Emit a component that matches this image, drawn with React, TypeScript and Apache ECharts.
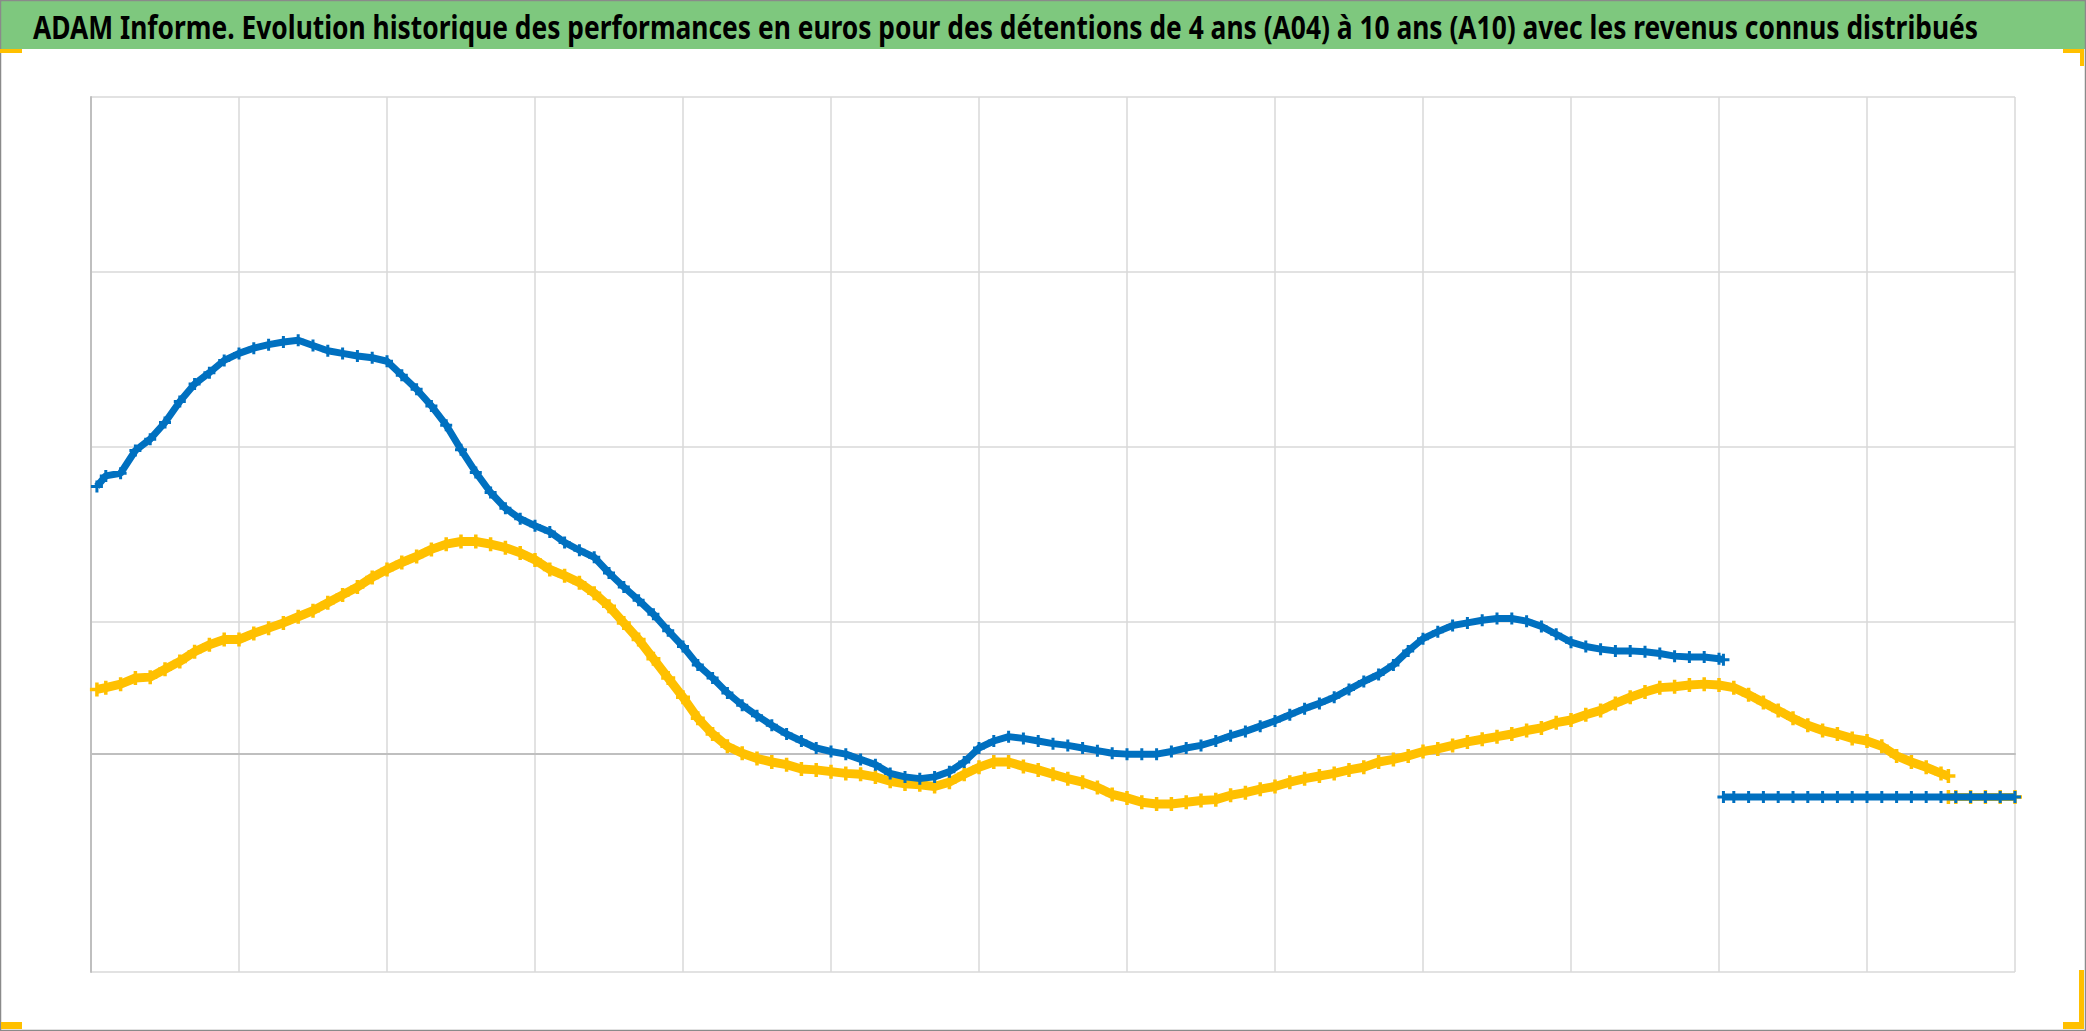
import { useEffect, useRef } from "react";
import * as echarts from "echarts";

const TITLE =
  "ADAM Informe. Evolution historique des performances en euros pour des détentions de 4 ans (A04) à 10 ans (A10) avec les revenus connus distribués";

const X_MIN = 0;
const X_MAX = 130;
const X_STEP = 10;
const Y_MIN = -2500;
const Y_MAX = 7500;
// horizontal gridlines seen in the picture (the -500 line is not drawn)
const Y_GRID = [7500, 5500, 3500, 1500, -2500];

const BLUE = "#0070C0";
const YELLOW = "#FFC000";

const steps = (a: number, b: number) => Array.from({ length: b - a + 1 }, (_, i) => a + i);

// Sampling positions (x in grid tenths) and values (euros)
const blueX = [0.4, ...steps(1, 110), 110.3];
const blueY = [
  3050, 3170, 3200, 3460, 3590, 3780, 4020, 4220, 4350, 4490, 4570, 4630, 4670, 4700, 4720, 4660,
  4600, 4570, 4540, 4520, 4480, 4320, 4160, 3970, 3750, 3470, 3210, 2980, 2800, 2680, 2600, 2530,
  2410, 2320, 2240, 2060, 1900, 1750, 1590, 1400, 1220, 1010, 860, 690, 550, 430, 320, 220, 140, 60,
  20, -10, -70, -130, -230, -270, -290, -270, -210, -100, 60, 140, 190, 170, 140, 110, 90, 60, 30, 0,
  -10, -10, -10, 20, 60, 90, 140, 200, 250, 310, 370, 440, 510, 570, 640, 730, 820, 900, 1010, 1170,
  1310, 1390, 1460, 1490, 1520, 1540, 1540, 1510, 1450, 1360, 1270, 1220, 1190, 1170, 1170, 1160,
  1140, 1110, 1100, 1100, 1080, 1070,
];

const yellowX = [0.4, ...steps(1, 125), 125.5];
const yellowY = [
  730, 750, 790, 860, 870, 960, 1050, 1160, 1240, 1300, 1300, 1370, 1430, 1490, 1560, 1630, 1720,
  1810, 1900, 2010, 2100, 2180, 2250, 2330, 2390, 2420, 2420, 2390, 2350, 2290, 2210, 2100, 2030,
  1950, 1830, 1680, 1490, 1300, 1080, 860, 640, 400, 220, 80, 0, -60, -100, -130, -180, -190, -210,
  -230, -240, -270, -320, -350, -360, -380, -330, -240, -160, -100, -100, -150, -190, -240, -290,
  -330, -390, -470, -510, -560, -580, -580, -560, -540, -530, -480, -450, -410, -380, -330, -290,
  -260, -230, -190, -160, -100, -70, -30, 20, 50, 90, 130, 160, 190, 220, 260, 290, 350, 380, 440,
  490, 570, 640, 700, 750, 760, 780, 790, 780, 750, 670, 580, 490, 400, 320, 260, 220, 170, 140, 80,
  -30, -100, -160, -230, -260,
];

const blueTailX = [110.3, ...steps(111, 130)];
const blueTailY = [
  -500, -500, -500, -500, -500, -500, -500, -500, -500, -500, -500, -500, -500, -500, -500, -500,
  -500, -500, -500, -500, -500,
];
const yellowTailX = [125.5, ...steps(126, 130)];
const yellowTailY = [-500, -500, -500, -500, -500, -500];

const zip = (xs: number[], ys: number[]) => xs.map((x, i) => [x, ys[i]]);

const PLUS = "path://M3,0H5V3H8V5H5V8H3V5H0V3H3Z";

const W = 2086;
const H = 1031;

export default function App() {
  const ref = useRef<HTMLDivElement>(null);

  useEffect(() => {
    if (!ref.current) return;
    const chart = echarts.init(ref.current, undefined, { renderer: "svg" });

    const titleFont = 'bold 33px "Noto Sans"';
    let scaleX = 0.85;
    try {
      const ctx = document.createElement("canvas").getContext("2d");
      if (ctx) {
        ctx.font = titleFont;
        const w = ctx.measureText(TITLE).width;
        if (w > 0) scaleX = 1946 / w;
      }
    } catch (e) {}

    const gridLine = { color: "#d9d9d9", width: 1.5, type: "solid" };
    const axisLine = { color: "#bfbfbf", width: 2 };

    const lineSeries = (data: number[][], color: string, size: number, width: number, z: number) => ({
      type: "line",
      data,
      symbol: PLUS,
      symbolSize: size,
      showSymbol: true,
      showAllSymbol: true,
      lineStyle: { color, width },
      itemStyle: { color },
      z,
      silent: true,
    });

    chart.setOption({
      animation: false,
      backgroundColor: "#ffffff",
      grid: { left: 91, top: 97, width: 1924, height: 875, containLabel: false },
      xAxis: {
        type: "value",
        min: X_MIN,
        max: X_MAX,
        interval: X_STEP,
        axisLine: { show: true, onZero: true, lineStyle: axisLine },
        axisTick: { show: false },
        axisLabel: { show: false },
        splitLine: { show: true, lineStyle: gridLine },
        z: 1,
      },
      yAxis: {
        type: "value",
        min: Y_MIN,
        max: Y_MAX,
        axisLine: { show: true, onZero: false, lineStyle: axisLine },
        axisTick: { show: false },
        axisLabel: { show: false },
        splitLine: { show: false },
        z: 1,
      },
      series: [
        {
          type: "line",
          data: [[X_MIN, Y_MIN]],
          symbol: "none",
          lineStyle: { opacity: 0 },
          silent: true,
          z: 0,
          markLine: {
            silent: true,
            z: 0,
            symbol: "none",
            label: { show: false },
            lineStyle: gridLine,
            emphasis: { disabled: true },
            data: Y_GRID.map((v) => ({ yAxis: v })),
          },
        },
        lineSeries(zip(yellowX, yellowY), YELLOW, 14, 9, 2),
        lineSeries(zip(blueX, blueY), BLUE, 12, 7, 3),
        lineSeries(zip(yellowTailX, yellowTailY), YELLOW, 14, 8, 4),
        lineSeries(zip(blueTailX, blueTailY), BLUE, 12, 7, 5),
      ],
      graphic: [
        {
          type: "rect",
          shape: { x: 1, y: 1, width: W - 2, height: 48 },
          style: { fill: "#7ec87e" },
          z: 10,
          silent: true,
        },
        {
          type: "text",
          x: 33,
          y: 26,
          scaleX,
          style: {
            text: TITLE,
            fontSize: 33,
            fontWeight: "bold",
            fontFamily: '"Noto Sans"',
            fill: "#000000",
            align: "left",
            verticalAlign: "middle",
          },
          z: 11,
          silent: true,
        },
        {
          type: "rect",
          shape: { x: 0.5, y: 0.5, width: W - 1, height: H - 1 },
          style: { fill: "none", stroke: "#8a8a8a", lineWidth: 1.5 },
          z: 12,
          silent: true,
        },
        { type: "rect", shape: { x: 0, y: 49, width: 22, height: 4 }, style: { fill: YELLOW }, z: 13, silent: true },
        { type: "rect", shape: { x: 2063, y: 49, width: 21, height: 4 }, style: { fill: YELLOW }, z: 13, silent: true },
        { type: "rect", shape: { x: 2080, y: 49, width: 4, height: 17 }, style: { fill: YELLOW }, z: 13, silent: true },
        { type: "rect", shape: { x: 2079, y: 970, width: 5, height: 59 }, style: { fill: YELLOW }, z: 13, silent: true },
        { type: "rect", shape: { x: 2063, y: 1022, width: 21, height: 7 }, style: { fill: YELLOW }, z: 13, silent: true },
        { type: "rect", shape: { x: 1, y: 1022, width: 21, height: 7 }, style: { fill: YELLOW }, z: 13, silent: true },
      ],
    });

    return () => chart.dispose();
  }, []);

  return (
    <div
      ref={ref}
      style={{ position: "absolute", left: 0, top: 0, width: W, height: H, background: "#fff" }}
    />
  );
}
